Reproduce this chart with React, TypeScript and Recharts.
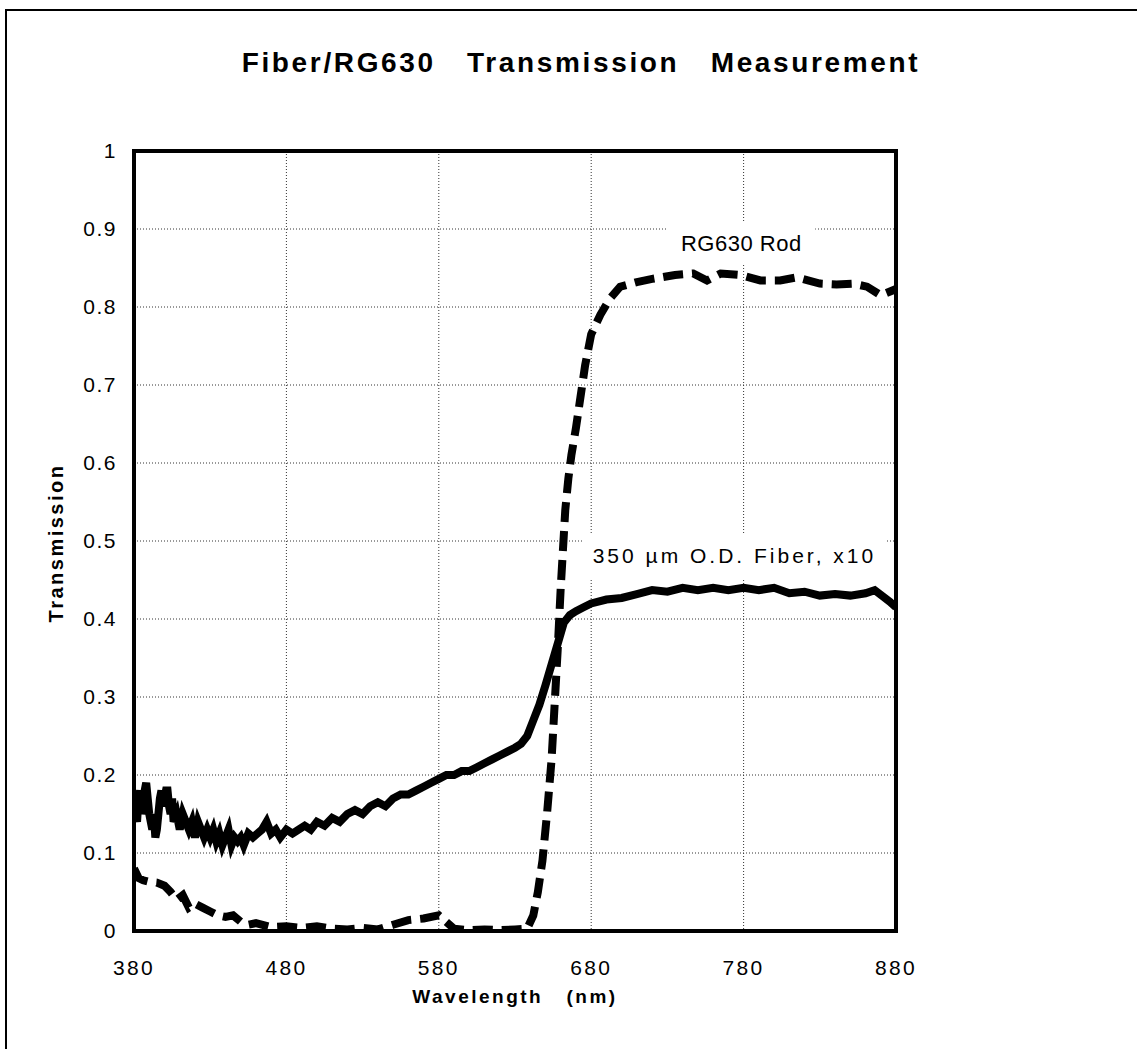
import { LineChart, Line, XAxis, YAxis, CartesianGrid, ReferenceArea } from 'recharts';

const FONT = '"Liberation Sans", Arial, Helvetica, sans-serif';

// x axis ticks (nm) and y axis ticks (transmission)
const wavelengthTicks = [380, 480, 580, 680, 780, 880];
const transmissionTicks = [0, 0.1, 0.2, 0.3, 0.4, 0.5, 0.6, 0.7, 0.8, 0.9, 1];

// 350 um O.D. fiber, x10 (solid)
const fiberWl = [
    380, 381, 382, 383, 384, 385, 386, 387, 388, 389, 390, 391, 392, 393, 394, 395, 396, 397, 398, 399,
    400, 401, 402, 403, 404, 405, 406, 408, 410, 412, 414, 416, 418,
    420, 422, 424, 426, 428, 430, 432, 434, 436, 438, 440, 442, 444, 446, 448, 450, 452, 455, 458, 461,
    464, 467, 470, 473, 476, 480, 484, 488, 492, 496, 500, 505, 510, 515, 520, 525, 530, 535, 540, 545,
    550, 555, 560, 565, 570, 575, 580, 585, 590, 595, 600, 605, 610, 615, 620, 625, 630, 634, 638, 642,
    646, 650, 653, 656, 659, 662, 666, 670, 675, 680, 690, 700, 710, 720, 730, 740, 750, 760, 770, 780,
    790, 800, 810, 820, 830, 840, 850, 860, 866, 872, 876, 880,
];
const fiberT = [
    0.17, 0.15, 0.14, 0.17, 0.18, 0.15, 0.16, 0.18, 0.19, 0.17, 0.15, 0.14, 0.13, 0.15, 0.12, 0.13, 0.15, 0.17, 0.18, 0.16,
    0.17, 0.18, 0.18, 0.16, 0.15, 0.17, 0.14, 0.15, 0.13, 0.15, 0.14, 0.13, 0.14,
    0.12, 0.14, 0.13, 0.12, 0.13, 0.12, 0.13, 0.115, 0.125, 0.11, 0.12, 0.13, 0.11, 0.12, 0.115, 0.12, 0.11, 0.125, 0.12, 0.125,
    0.13, 0.14, 0.125, 0.13, 0.12, 0.13, 0.125, 0.13, 0.135, 0.13, 0.14, 0.135, 0.145, 0.14, 0.15, 0.155, 0.15, 0.16, 0.165, 0.16,
    0.17, 0.175, 0.175, 0.18, 0.185, 0.19, 0.195, 0.2, 0.2, 0.205, 0.205, 0.21, 0.215, 0.22, 0.225, 0.23, 0.235, 0.24, 0.25, 0.27,
    0.29, 0.315, 0.335, 0.355, 0.375, 0.395, 0.405, 0.41, 0.415, 0.42, 0.425, 0.427, 0.432, 0.437, 0.435, 0.44, 0.437, 0.44, 0.437, 0.44,
    0.437, 0.44, 0.433, 0.435, 0.43, 0.432, 0.43, 0.433, 0.437, 0.428, 0.422, 0.415,
];

// RG630 rod (dashed)
const rodWl = [
    380, 383, 386, 390, 395, 400, 404, 408, 412, 416, 420, 425, 430, 435, 440, 445, 450, 455, 460, 470,
    480, 490, 500, 510, 520, 530, 540, 550, 560, 570, 580, 590, 600, 610, 620, 630, 638, 642, 645, 648,
    651, 654, 656, 658, 660, 661.5, 663, 665, 667, 670, 673, 676, 680, 686, 692, 699, 710, 720, 735, 747,
    756, 765, 778, 791, 804, 815, 830, 841, 852, 861, 870, 880,
];
const rodT = [
    0.08, 0.068, 0.065, 0.063, 0.062, 0.058, 0.05, 0.04, 0.046, 0.03, 0.035, 0.03, 0.025, 0.02, 0.018, 0.02, 0.012, 0.008, 0.01, 0.005,
    0.006, 0.004, 0.006, 0.003, 0.002, 0.004, 0.002, 0.008, 0.014, 0.016, 0.02, 0.003, 0.001, 0.002, 0.001, 0.002, 0.003, 0.02, 0.05, 0.09,
    0.15, 0.22, 0.29, 0.36, 0.44, 0.49, 0.54, 0.58, 0.61, 0.645, 0.685, 0.725, 0.765, 0.79, 0.81, 0.826, 0.832, 0.836, 0.841, 0.843,
    0.834, 0.843, 0.841, 0.834, 0.834, 0.838, 0.83, 0.829, 0.83, 0.826, 0.815, 0.823,
];

const fiberData = fiberWl.map((wl, i) => ({ wl, t: fiberT[i] }));
const rodData = rodWl.map((wl, i) => ({ wl, t: rodT[i] }));

const XTick = ({ x, y, payload }: any) => (
    <text x={x} y={y} dy={17} textAnchor="middle" fontFamily={FONT} fontSize={21} fill="#000" style={{ letterSpacing: 2.3 }}>
        {payload.value}
    </text>
);

const YTick = ({ x, y, payload }: any) => (
    <text x={x} y={y} dy={7} textAnchor="end" fontFamily={FONT} fontSize={21} fill="#000" style={{ letterSpacing: 1.5 }}>
        {payload.value}
    </text>
);

const XTitle = ({ viewBox }: any) => (
    <text x={viewBox.x + viewBox.width / 2} y={viewBox.y + 72} textAnchor="middle" fontFamily={FONT} fontSize={19}
        fontWeight="bold" fill="#000" style={{ letterSpacing: 2.5, whiteSpace: 'pre' }}>
        {'Wavelength   (nm)'}
    </text>
);

const YTitle = ({ viewBox }: any) => {
    const cx = viewBox.x + 63;
    const cy = viewBox.y + viewBox.height / 2 + 2;
    return (
        <text x={cx} y={cy} textAnchor="middle" transform={`rotate(-90 ${cx} ${cy})`} fontFamily={FONT} fontSize={20}
            fontWeight="bold" fill="#000" style={{ letterSpacing: 2.5 }}>
            Transmission
        </text>
    );
};

const boxLabel = (text: string, size: number, spacing: number) => ({ viewBox }: any) => (
    <text x={viewBox.x + viewBox.width / 2} y={viewBox.y + viewBox.height / 2} dy={size * 0.36} textAnchor="middle"
        fontFamily={FONT} fontSize={size} fill="#000" style={{ letterSpacing: spacing }}>
        {text}
    </text>
);

export default function App() {
    return (
        <div style={{ position: 'absolute', left: 0, top: 0, width: 1137, height: 1049, background: '#fff', fontFamily: FONT, overflow: 'hidden' }}>
            {/* page frame */}
            <div style={{ position: 'absolute', left: 5, top: 9, width: 1140, height: 1050, borderTop: '2px solid #000', borderLeft: '2px solid #000' }} />
            <div style={{ position: 'absolute', left: 0, top: 49, width: 1162, textAlign: 'center', fontSize: 28, lineHeight: '28px',
                fontWeight: 'bold', letterSpacing: 2.65, whiteSpace: 'pre', color: '#000' }}>
                {'Fiber/RG630   Transmission   Measurement'}
            </div>
            <div style={{ position: 'absolute', left: 0, top: 0 }}>
                <LineChart width={1137} height={1049} margin={{ top: 151, right: 241, bottom: 38, left: 0 }}>
                    <CartesianGrid stroke="#333" strokeDasharray="1 2" strokeWidth={1} />
                    <XAxis type="number" dataKey="wl" domain={[380, 880]} ticks={wavelengthTicks} allowDataOverflow
                        height={80} tickSize={0} tickMargin={27} tickLine={false} axisLine={false}
                        tick={<XTick />} label={<XTitle />} />
                    <YAxis type="number" domain={[0, 1]} ticks={transmissionTicks} allowDataOverflow
                        width={134} tickSize={0} tickMargin={17} tickLine={false} axisLine={false}
                        tick={<YTick />} label={<YTitle />} />
                    <ReferenceArea x1={730} x2={827} y1={0.855} y2={0.908} fill="#fff" fillOpacity={1} stroke="none"
                        label={boxLabel('RG630 Rod', 22, 0.5)} />
                    <ReferenceArea x1={674} x2={874} y1={0.452} y2={0.51} fill="#fff" fillOpacity={1} stroke="none"
                        label={boxLabel('350 \u00b5m O.D. Fiber, x10', 21, 3)} />
                    <Line data={rodData} dataKey="t" type="linear" stroke="#000" strokeWidth={8} strokeDasharray="20 9"
                        dot={false} isAnimationActive={false} />
                    <Line data={fiberData} dataKey="t" type="linear" stroke="#000" strokeWidth={8}
                        dot={false} isAnimationActive={false} />
                    <ReferenceArea x1={380} x2={880} y1={0} y2={1} fill="none" stroke="#000" strokeWidth={4} />
                </LineChart>
            </div>
        </div>
    );
}
